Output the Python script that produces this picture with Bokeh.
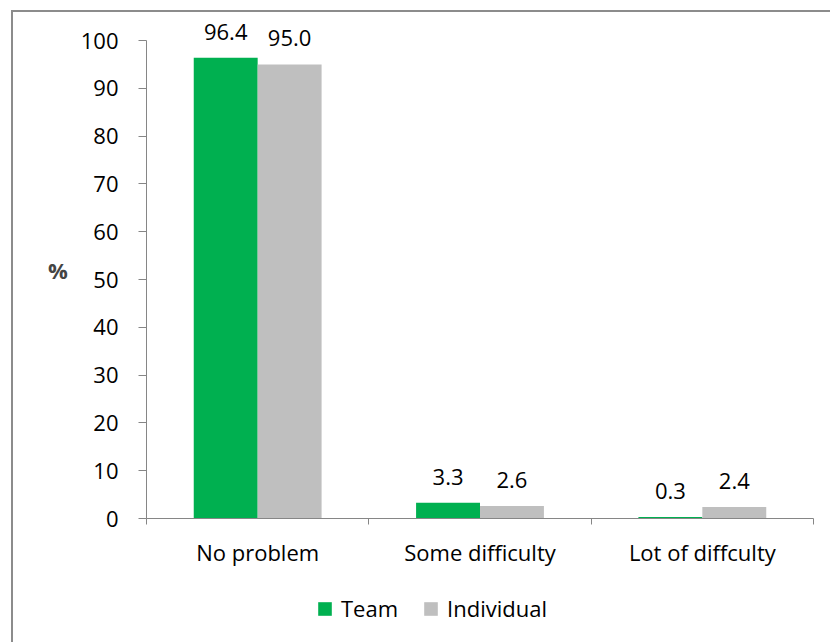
from bokeh.plotting import figure
from bokeh.layouts import column
from bokeh.models import ColumnDataSource, FixedTicker, Legend, LegendItem, Range1d
from bokeh.core.properties import value
from bokeh.embed import file_html
from bokeh.resources import INLINE

categories = ["No problem", "Some difficulty", "Lot of diffculty"]
team = [96.4, 3.3, 0.3]
individual = [95.0, 2.6, 2.4]
series = ["Team", "Individual"]
y_ticks = [0, 10, 20, 30, 40, 50, 60, 70, 80, 90, 100]

GREEN = "#00B050"
GRAY = "#BFBFBF"
AXIS = "#868686"
FONT = "Open Sans"
FS = "22px"
BW = 0.2875
W = 817

idx = list(range(len(categories)))
src_t = ColumnDataSource(dict(
    x=[i + 0.5 - BW / 2 for i in idx], top=team, lab=["%.1f" % v for v in team]))
src_i = ColumnDataSource(dict(
    x=[i + 0.5 + BW / 2 for i in idx], top=individual, lab=["%.1f" % v for v in individual]))

p = figure(width=W, height=568, output_backend="svg", toolbar_location=None,
           x_range=Range1d(0, len(categories)), y_range=Range1d(0, 104.2),
           min_border_left=133, min_border_right=17, min_border_top=8, min_border_bottom=62)
p.outline_line_color = None
p.grid.visible = False
p.background_fill_color = "white"
p.border_fill_color = "white"

p.vbar(x="x", top="top", width=BW, bottom=0, source=src_t, fill_color=GREEN, line_color=None)
p.vbar(x="x", top="top", width=BW, bottom=0, source=src_i, fill_color=GRAY, line_color=None)

for s in (src_t, src_i):
    p.text(x="x", y="top", text="lab", source=s, text_align="center", text_baseline="alphabetic",
           y_offset=-26, text_font=value(FONT), text_font_size=FS, text_color="black")

# y axis
p.yaxis.ticker = FixedTicker(ticks=y_ticks)
p.yaxis.bounds = (0, 100)
p.yaxis.axis_line_color = AXIS
p.yaxis.major_tick_line_color = AXIS
p.yaxis.major_tick_out = 8
p.yaxis.major_tick_in = 0
p.yaxis.minor_tick_line_color = None
p.yaxis.major_label_text_font = FONT
p.yaxis.major_label_text_font_size = FS
p.yaxis.major_label_text_color = "black"
p.yaxis.major_label_standoff = 20
p.yaxis.axis_label = "%"
p.yaxis.axis_label_orientation = "horizontal"
p.yaxis.axis_label_text_font = FONT
p.yaxis.axis_label_text_font_size = FS
p.yaxis.axis_label_text_font_style = "bold"
p.yaxis.axis_label_standoff = 10

# x axis: labels at centers, ticks at boundaries
p.xaxis.ticker = FixedTicker(ticks=[i + 0.5 for i in idx], minor_ticks=list(range(len(categories) + 1)))
p.xaxis.major_label_overrides = {i + 0.5: c for i, c in zip(idx, categories)}
p.xaxis.axis_line_color = AXIS
p.xaxis.major_tick_line_color = None
p.xaxis.major_tick_out = 0
p.xaxis.major_tick_in = 0
p.xaxis.minor_tick_line_color = AXIS
p.xaxis.minor_tick_out = 6
p.xaxis.minor_tick_in = 0
p.xaxis.major_label_text_font = FONT
p.xaxis.major_label_text_font_size = FS
p.xaxis.major_label_text_color = "black"
p.xaxis.major_label_standoff = 12

# legend strip (same series as hidden renderers, only their legend glyphs are shown)
p2 = figure(width=W, height=62, output_backend="svg", toolbar_location=None,
            x_axis_location=None, y_axis_location=None,
            x_range=Range1d(0, 1), y_range=Range1d(-2, -1),
            min_border_left=0, min_border_right=0, min_border_top=0, min_border_bottom=0)
p2.outline_line_color = None
p2.grid.visible = False
lr_t = p2.vbar(x="x", top="top", width=BW, bottom=0, source=src_t, fill_color=GREEN, line_color=None)
lr_i = p2.vbar(x="x", top="top", width=BW, bottom=0, source=src_i, fill_color=GRAY, line_color=None)
lr_t.visible = False
lr_i.visible = False
legend = Legend(items=[LegendItem(label=series[0], renderers=[lr_t]),
                       LegendItem(label=series[1], renderers=[lr_i])],
                orientation="horizontal", location=(170, 19))
legend.border_line_color = None
legend.background_fill_alpha = 0
legend.inactive_fill_alpha = 0
legend.label_text_font = FONT
legend.label_text_font_size = FS
legend.label_text_color = "black"
legend.label_height = 17
legend.glyph_width = 17
legend.glyph_height = 17
legend.label_standoff = 8
legend.spacing = 24
legend.margin = 0
legend.padding = 0
p2.add_layout(legend)

layout = column(p, p2, spacing=0)
layout.styles = {"margin-left": "11px", "margin-top": "10px",
                 "border-left": "2px solid #8c8c8c", "border-top": "2px solid #8c8c8c"}

open("out.html", "w").write(file_html(layout, INLINE))
